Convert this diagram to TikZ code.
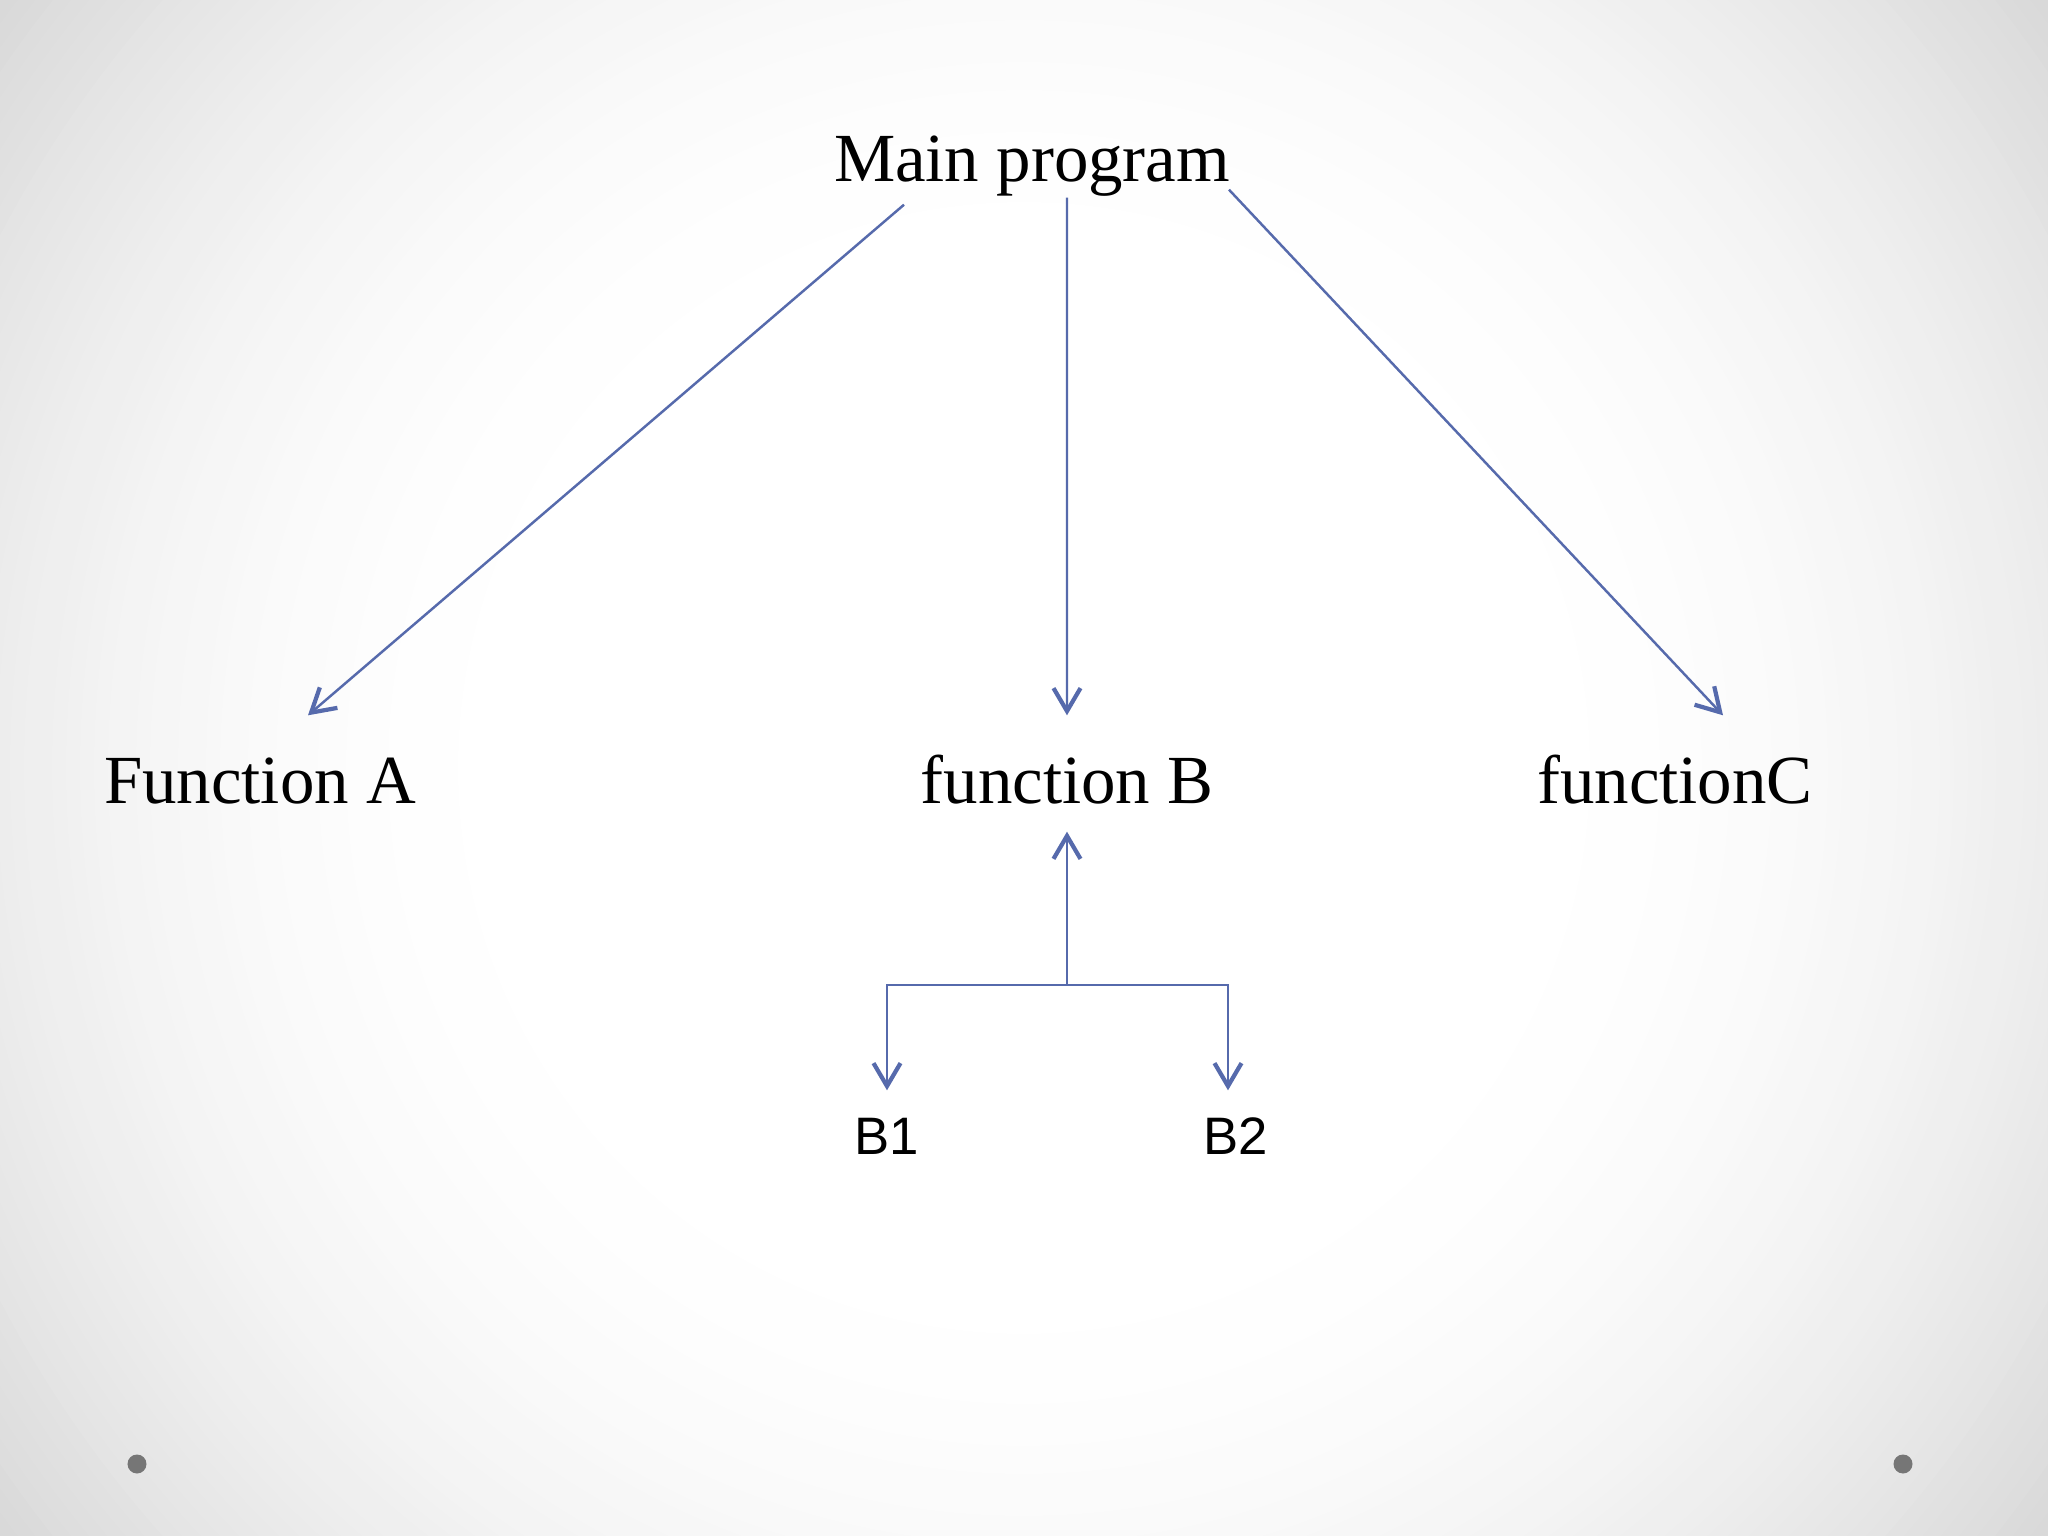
\documentclass[tikz,border=0pt]{standalone}
\usepackage{fontspec}
\setmainfont{Liberation Serif}
\newfontfamily\labelfont{Liberation Sans}
\usetikzlibrary{arrows.meta, calc}

\definecolor{linkblue}{RGB}{86,106,172}
\definecolor{dotgray}{RGB}{118,118,118}

\begin{document}
\begin{tikzpicture}[
				>={Straight Barb[length=2.3mm, width=2.7mm, line width=1.2pt]},
				title/.style={anchor=base, inner sep=0pt, text height=0.5cm, text depth=0.15cm, font=\fontsize{19.6}{24}\selectfont},
				sub/.style={anchor=base, inner sep=0pt, text height=0.38cm, text depth=0cm, font=\labelfont\fontsize{15}{18}\selectfont},
				arr/.style={->, draw=linkblue, line width=0.7pt}
			]

			% slide background, grey towards the edges
			\useasboundingbox (0,0) rectangle (20.48,-15.36);
			\begin{scope}
				\clip (0,0) rectangle (20.48,-15.36);
				\fill[white] (0,0) rectangle (20.48,-15.36);
				\foreach \r in {12.8,12.66,...,5.1} {
					\pgfmathsetmacro\shadepct{15*(max(\r-5.0,0.001)/7.8)^1.9}
					\fill[black!\shadepct] (10.24,-7.68) circle (\r);
				}
			\end{scope}
			\fill[dotgray] (1.37,-14.64) circle (0.095);
			\fill[dotgray] (19.03,-14.64) circle (0.095);

			% top level
			\node[title] (main) at (10.32,-1.82) {Main program};
			\node[title] (func_a) at (2.60,-8.04) {Function A};
			\node[title] (func_b) at (10.67,-8.04) {function B};
			\node[title] (func_c) at (16.75,-8.03) {functionC};
			\draw[arr] ([xshift=-1.28cm,yshift=-0.07cm]main.south) -- ([xshift=0.48cm,yshift=0.38cm]func_a.north);
			\draw[arr] ([xshift=0.35cm]main.south) -- ([yshift=0.38cm]func_b.north);
			\draw[arr] ([xshift=1.97cm,yshift=0.08cm]main.south) -- ([xshift=0.48cm,yshift=0.37cm]func_c.north);

			% sub functions of B
			\node[sub] (b_one) at (8.87,-11.54) {B1};
			\node[sub] (b_two) at (12.36,-11.54) {B2};
			\coordinate (b_split) at (10.67,-9.85);
			\draw[arr] (b_split) -- ([yshift=-0.12cm]func_b.south);
			\draw[arr] (b_split) -| ([yshift=0.25cm]b_one.north);
			\draw[arr] (b_split) -| ([xshift=-0.08cm,yshift=0.25cm]b_two.north);

		\end{tikzpicture}
\end{document}
